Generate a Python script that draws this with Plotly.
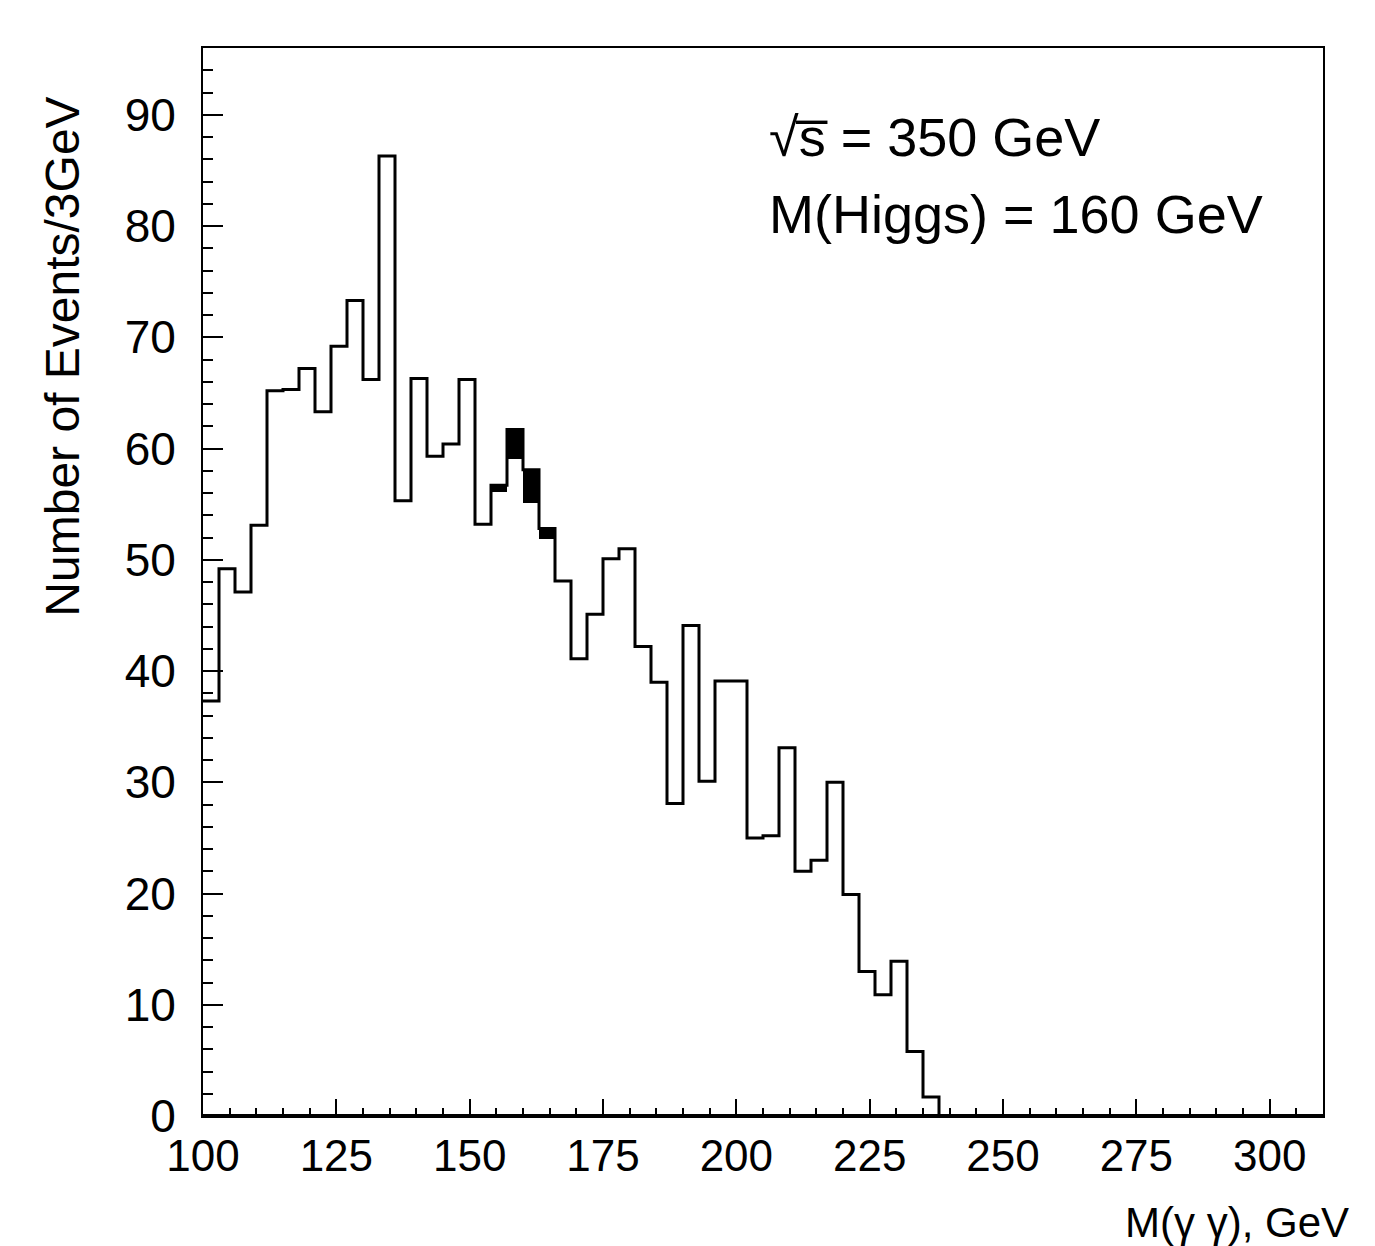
import numpy as np
import plotly.graph_objects as go

# ---- data ----
bin_width = 3.0
first_edge = 100.0
# total number of events per 3 GeV bin (background + signal), bins start at 100 GeV
total_counts = [
    37.3, 49.2, 47.1, 53.1, 65.2, 65.3, 67.2, 63.3, 69.2, 73.3,
    66.2, 86.3, 55.3, 66.3, 59.3, 60.4, 66.2, 53.2, 56.7, 61.7,
    58.1, 52.8, 48.1, 41.1, 45.1, 50.1, 51.0, 42.2, 39.0, 28.1,
    44.1, 30.1, 39.1, 39.1, 25.0, 25.2, 33.1, 22.0, 23.0, 30.0,
    19.9, 13.0, 10.9, 13.9, 5.8, 1.7, 0, 0, 0, 0,
    0, 0, 0, 0, 0, 0, 0, 0, 0, 0,
    0, 0, 0, 0, 0, 0, 0, 0, 0, 0,
]
# signal (black filled) contribution, by lower bin edge
signal_low_edges = [154, 157, 160, 163]
signal_counts = [0.6, 2.6, 3.0, 0.9]

x_ticks = [100, 125, 150, 175, 200, 225, 250, 275, 300]
y_ticks = [0, 10, 20, 30, 40, 50, 60, 70, 80, 90]
x_range = [100, 310]
y_range = [0, 96]

# ---- derived ----
n_bins = len(total_counts)
edges = first_edge + bin_width * np.arange(n_bins + 1)
step_x = edges
step_y = list(total_counts) + [total_counts[-1]]

sig_low = np.array(signal_low_edges, dtype=float)
sig_idx = ((sig_low - first_edge) / bin_width).astype(int)
sig_centers = sig_low + bin_width / 2
sig_base = [total_counts[i] - s for i, s in zip(sig_idx, signal_counts)]

FONT = "Liberation Sans"

fig = go.Figure()

fig.add_trace(go.Bar(
    x=sig_centers, y=signal_counts, base=sig_base, width=bin_width,
    marker=dict(color="black", line=dict(width=0)),
    showlegend=False, hoverinfo="skip",
))

fig.add_trace(go.Scatter(
    x=step_x, y=step_y, mode="lines",
    line=dict(color="black", width=3, shape="hv"),
    showlegend=False, hoverinfo="skip",
))

fig.update_layout(
    width=1375, height=1246,
    margin=dict(l=195, r=60, t=40, b=138),
    paper_bgcolor="white", plot_bgcolor="white",
    font=dict(family=FONT, color="black", size=46),
    bargap=0,
    xaxis=dict(
        range=x_range, tickvals=x_ticks, ticks="inside", ticklen=17, tickwidth=2,
        tickcolor="black", showline=True, linecolor="black", linewidth=2,
        mirror=True, showgrid=False, zeroline=False,
        tickfont=dict(size=44, family=FONT), ticklabelstandoff=0,
        minor=dict(dtick=5, ticks="inside", ticklen=8, tickwidth=2, tickcolor="black", showgrid=False),
    ),
    yaxis=dict(
        range=y_range, tickvals=y_ticks, ticks="inside", ticklen=20, tickwidth=2,
        tickcolor="black", showline=True, linecolor="black", linewidth=2,
        mirror=True, showgrid=False, zeroline=False,
        tickfont=dict(size=46, family=FONT), ticklabelstandoff=16,
        minor=dict(dtick=2, ticks="inside", ticklen=10, tickwidth=2, tickcolor="black", showgrid=False),
    ),
    shapes=[dict(type="line", xref="paper", yref="paper", x0=0, x1=1, y0=0, y1=0,
                 line=dict(color="black", width=4))],
    annotations=[
        dict(text="√s\u0305 = 350 GeV", xref="paper", yref="paper", x=0.504, y=0.917,
             xanchor="left", yanchor="middle", showarrow=False, font=dict(size=54, family=FONT)),
        dict(text="M(Higgs) = 160 GeV", xref="paper", yref="paper", x=0.504, y=0.845,
             xanchor="left", yanchor="middle", showarrow=False, font=dict(size=54, family=FONT)),
        dict(text="M(γ γ), GeV", xref="paper", yref="paper", x=1.025, y=-0.1,
             xanchor="right", yanchor="middle", showarrow=False, font=dict(size=42, family=FONT)),
        dict(text="Number of Events/3GeV", xref="paper", yref="paper", x=-0.125, y=0.711,
             xanchor="center", yanchor="middle", textangle=-90, showarrow=False,
             font=dict(size=48, family=FONT)),
    ],
)

fig.write_html("out.html")
